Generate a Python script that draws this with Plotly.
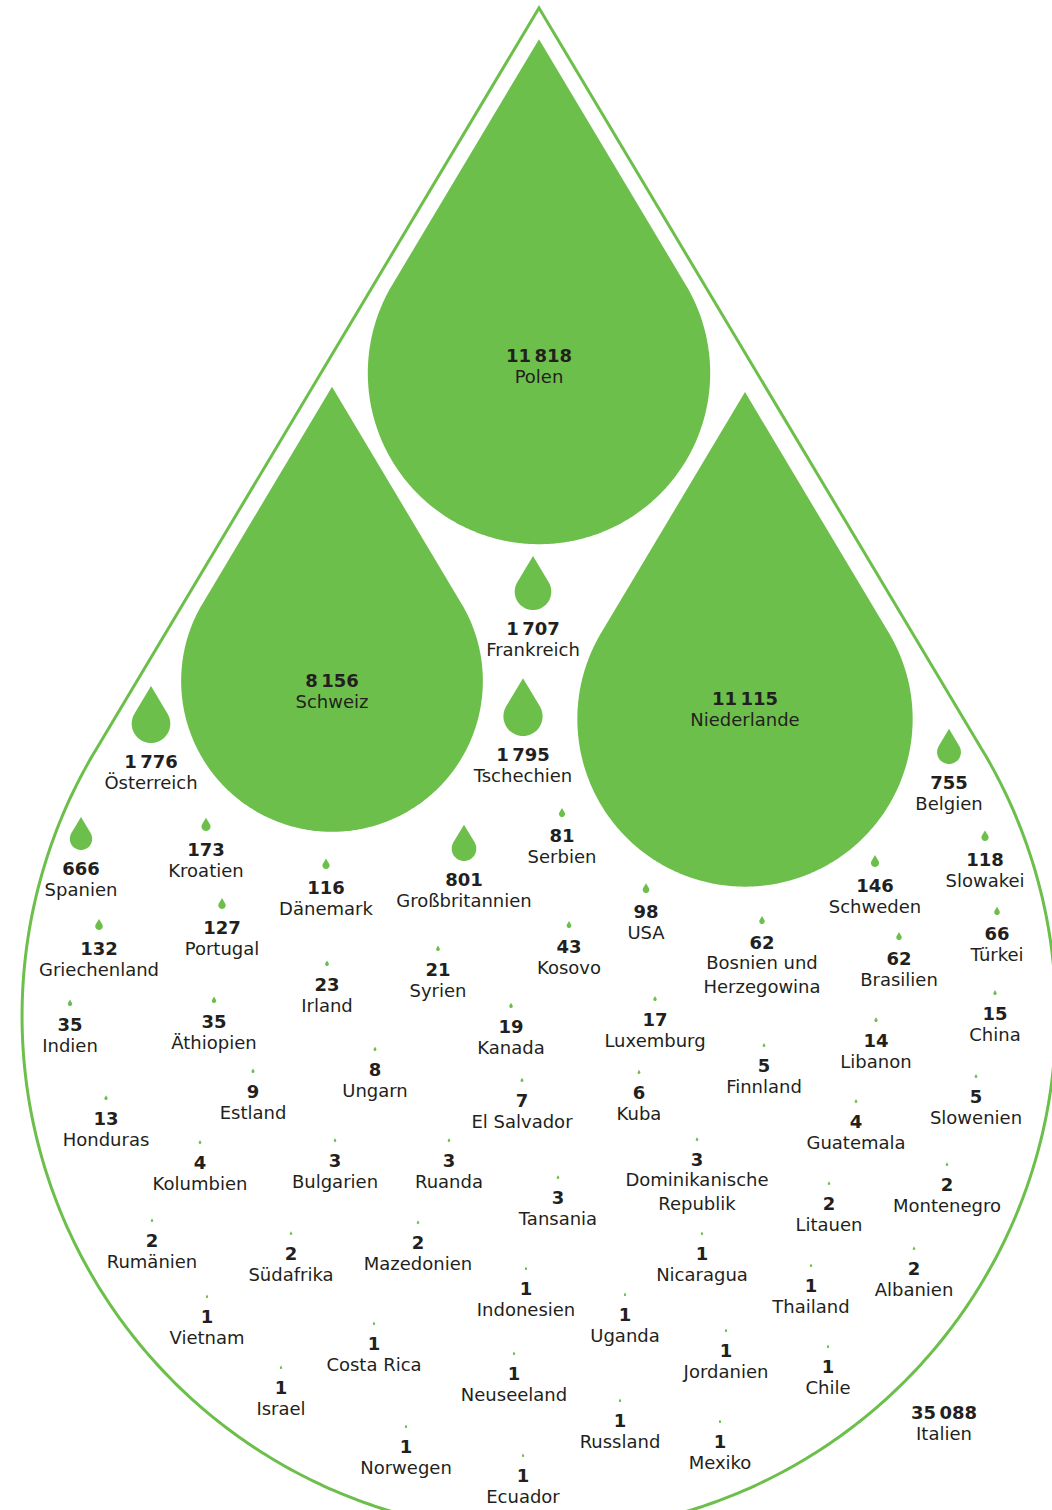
import numpy as np
import plotly.graph_objects as go

# ---------------- data ----------------
countries = ["Italien", "Polen", "Niederlande", "Schweiz", "Tschechien", "Österreich",
             "Frankreich", "Großbritannien", "Belgien", "Spanien", "Kroatien",
             "Griechenland", "Portugal", "Schweden", "Slowakei", "Dänemark", "USA",
             "Serbien", "Türkei", "Bosnien und<br>Herzegowina", "Brasilien", "Kosovo",
             "Indien", "Äthiopien", "Irland", "Syrien", "Kanada", "Luxemburg", "China",
             "Libanon", "Honduras", "Estland", "Ungarn", "El Salvador", "Kuba",
             "Finnland", "Slowenien", "Guatemala", "Kolumbien", "Bulgarien", "Ruanda",
             "Tansania", "Dominikanische<br>Republik", "Rumänien", "Südafrika",
             "Mazedonien", "Litauen", "Montenegro", "Albanien", "Vietnam", "Costa Rica",
             "Israel", "Indonesien", "Uganda", "Neuseeland", "Nicaragua", "Thailand",
             "Jordanien", "Chile", "Russland", "Mexiko", "Norwegen", "Ecuador"]
values = [35088, 11818, 11115, 8156, 1795, 1776,
          1707, 801, 755, 666, 173,
          132, 127, 146, 118, 116, 98,
          81, 66, 62, 62, 43,
          35, 35, 23, 21, 19, 17, 15,
          14, 13, 9, 8, 7, 6,
          5, 5, 4, 4, 3, 3,
          3, 3, 2, 2,
          2, 2, 2, 2, 1, 1,
          1, 1, 1, 1, 1, 1,
          1, 1, 1, 1, 1, 1]

# ---------------- layout (label positions, px) ----------------
label_x = [944, 539, 745, 332, 523, 151,
           533, 464, 949, 81, 206,
           99, 222, 875, 985, 326, 646,
           562, 997, 762, 899, 569,
           70, 214, 327, 438, 511, 655, 995,
           876, 106, 253, 375, 522, 639,
           764, 976, 856, 200, 335, 449,
           558, 697, 152, 291,
           418, 829, 947, 914, 207, 374,
           281, 526, 625, 514, 702, 811,
           726, 828, 620, 720, 406, 523]
label_y = [1412, 355, 698, 680, 754, 761,
           628, 879, 782, 868, 849,
           948, 927, 885, 859, 887, 911,
           835, 933, 942, 958, 946,
           1024, 1021, 984, 969, 1026, 1019, 1013,
           1040, 1118, 1091, 1069, 1100, 1092,
           1065, 1096, 1121, 1162, 1160, 1160,
           1197, 1159, 1240, 1253,
           1242, 1203, 1184, 1268, 1316, 1343,
           1387, 1288, 1314, 1373, 1253, 1285,
           1350, 1366, 1420, 1441, 1446, 1475]
# drops whose label sits inside (or away from) the drop: explicit drop centre
drop_center = {"Italien": (539, 1016), "Polen": (539, 373),
               "Niederlande": (745, 719), "Schweiz": (332, 681)}

# size scale: value -> drop height in px (log-log)
SIZE_V = [1, 5, 17, 62, 130, 666, 1707, 8156, 11818, 35088]
SIZE_H = [3.4, 4.0, 5.0, 8, 11, 33, 54, 445, 505, 1525]

GREEN = "#6cbf4a"
TEXT = "#231f20"
FONT = "DejaVu Sans"
TIP = 1.95       # tip distance from circle centre, in radii
TEXT_DY = 2      # baseline fine-tuning of labels


def drop_height(v):
    return float(np.exp(np.interp(np.log(v), np.log(SIZE_V), np.log(SIZE_H))))


def drop_path(cx, cy, r, n=90):
    th = np.arcsin(1.0 / TIP)
    phis = np.linspace(-th, np.pi + th, n)
    pts = [(cx, cy - TIP * r)]
    pts += [(cx + r * np.cos(p), cy + r * np.sin(p)) for p in phis]
    d = "M {:.2f},{:.2f} ".format(*pts[0])
    d += " ".join("L {:.2f},{:.2f}".format(x, y) for x, y in pts[1:])
    return d + " Z"


def fmt(v):
    return f"{v:,}".replace(",", "\u2009")


shapes = []
for name, v, lx, ly in zip(countries, values, label_x, label_y):
    h = drop_height(v)
    r = h / (1 + TIP)
    if name in drop_center:
        cx, cy = drop_center[name]
    else:
        cx, cy = lx, ly - 18 - r
    if name == "Italien":
        shapes.append(dict(type="path", path=drop_path(cx, cy, r, 400), xref="x", yref="y",
                           fillcolor="white", line=dict(color=GREEN, width=3), layer="below"))
    else:
        shapes.append(dict(type="path", path=drop_path(cx, cy, r, max(24, int(r * 2))),
                           xref="x", yref="y", fillcolor=GREEN,
                           line=dict(width=0), layer="below"))

value_y = [ly + TEXT_DY for ly in label_y]
name_y = [ly + TEXT_DY + 21 + (n.count("<br>")) * 11.7 for n, ly in zip(countries, label_y)]

fig = go.Figure()
fig.add_trace(go.Scatter(
    x=label_x, y=value_y, mode="text",
    text=[f"<b>{fmt(v)}</b>" for v in values],
    textposition="middle center",
    textfont=dict(family=FONT, size=18, color=TEXT),
    hoverinfo="skip", showlegend=False))
fig.add_trace(go.Scatter(
    x=label_x, y=name_y, mode="text",
    text=countries,
    textposition="middle center",
    textfont=dict(family=FONT, size=18, color=TEXT),
    hoverinfo="skip", showlegend=False))

fig.update_layout(
    width=1052, height=1510, autosize=False,
    margin=dict(l=0, r=0, t=0, b=0),
    paper_bgcolor="white", plot_bgcolor="white",
    shapes=shapes,
    xaxis=dict(range=[0, 1052], visible=False, fixedrange=True),
    yaxis=dict(range=[1510, 0], visible=False, fixedrange=True),
)

fig.write_html("out.html", config={"displayModeBar": False},
               post_script="document.body.style.margin='0';document.body.style.overflow='hidden';")
